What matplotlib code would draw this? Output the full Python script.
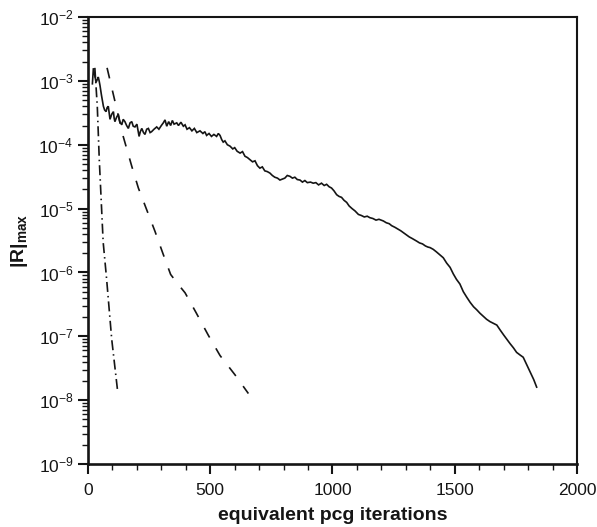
import matplotlib
matplotlib.use("Agg")
import math
import matplotlib.pyplot as plt
from matplotlib.ticker import FixedLocator, FuncFormatter, LogLocator, NullFormatter, MultipleLocator

plt.rcParams['font.family'] = ['Liberation Sans', 'DejaVu Sans']
plt.rcParams['mathtext.fontset'] = 'custom'
plt.rcParams['mathtext.rm'] = 'Liberation Sans'
plt.rcParams['mathtext.it'] = 'Liberation Sans:italic'
plt.rcParams['mathtext.bf'] = 'Liberation Sans:bold'

# ---- data ----
solid_x = [18, 22, 28, 33, 38, 42, 46, 49, 55, 63, 68, 74, 78, 83, 87, 90, 97, 104, 107, 110,
           117, 124, 130, 138, 144, 151, 158, 165, 172, 179, 185, 192, 200, 209, 214, 220, 227,
           233, 240, 247, 254, 260, 270, 281, 290, 300, 308, 315, 322, 330, 338, 345, 352, 363,
           370, 380, 390, 397, 405, 415, 425, 435, 445, 458, 470, 478, 485, 495, 505, 515, 526,
           533, 540, 547, 553, 560, 570, 581, 592, 600, 610, 622, 632, 642, 652, 663, 673, 683,
           693, 703, 713, 723, 733, 744, 754, 764, 775, 785, 795, 805, 815, 826, 836, 846, 856,
           867, 877, 887, 897, 910, 921, 932, 943, 955, 966, 976, 986, 996, 1006, 1017, 1027,
           1037, 1047, 1058, 1068, 1080, 1092, 1106, 1118, 1130, 1142, 1153, 1165, 1178, 1190,
           1208, 1220, 1232, 1242, 1255, 1267, 1279, 1290, 1302, 1314, 1326, 1344, 1356, 1368,
           1380, 1390, 1399, 1412, 1425, 1438, 1453, 1467, 1481, 1494, 1507, 1521, 1535, 1549,
           1563, 1577, 1590, 1603, 1617, 1630, 1644, 1658, 1672, 1686, 1700, 1713, 1726, 1740,
           1753, 1767, 1780, 1790, 1801, 1812, 1823, 1835]
solid_y = [9e-4, 1.58e-3, 1.2e-3, 9.5e-4, 1.05e-3, 1.15e-3, 9.8e-4, 8.5e-4, 6e-4, 4e-4, 3.5e-4,
           3.3e-4, 3.8e-4, 4e-4, 3.1e-4, 2.5e-4, 3.0e-4, 3.3e-4, 2.6e-4, 2.3e-4, 2.7e-4, 3.0e-4,
           2.3e-4, 2.05e-4, 2.5e-4, 2.3e-4, 2.0e-4, 1.8e-4, 2.2e-4, 2.3e-4, 1.95e-4, 1.9e-4,
           2.1e-4, 1.35e-4, 1.6e-4, 1.8e-4, 1.55e-4, 1.45e-4, 1.75e-4, 1.8e-4, 1.55e-4, 1.6e-4,
           1.75e-4, 1.9e-4, 1.75e-4, 2.0e-4, 2.2e-4, 2.45e-4, 1.95e-4, 2.3e-4, 2.0e-4, 2.4e-4,
           2.1e-4, 2.2e-4, 2.0e-4, 2.25e-4, 1.95e-4, 2.05e-4, 1.75e-4, 1.85e-4, 1.65e-4, 1.8e-4,
           1.55e-4, 1.65e-4, 1.5e-4, 1.6e-4, 1.4e-4, 1.5e-4, 1.35e-4, 1.45e-4, 1.35e-4, 1.5e-4,
           1.4e-4, 1.2e-4, 1.1e-4, 1.15e-4, 1.0e-4, 9.5e-5, 8.6e-5, 9.0e-5, 7.9e-5, 7.4e-5,
           7.8e-5, 6.6e-5, 6.3e-5, 5.8e-5, 5.4e-5, 5.6e-5, 4.7e-5, 4.3e-5, 4.5e-5, 3.9e-5,
           3.8e-5, 3.6e-5, 3.3e-5, 3.1e-5, 3.0e-5, 2.8e-5, 2.9e-5, 3.0e-5, 3.3e-5, 3.2e-5,
           3.0e-5, 3.1e-5, 2.85e-5, 2.8e-5, 2.6e-5, 2.75e-5, 2.55e-5, 2.6e-5, 2.5e-5, 2.55e-5,
           2.35e-5, 2.5e-5, 2.3e-5, 2.4e-5, 2.2e-5, 2.1e-5, 1.9e-5, 1.65e-5, 1.55e-5, 1.5e-5,
           1.35e-5, 1.25e-5, 1.1e-5, 1.0e-5, 9.2e-6, 8.1e-6, 7.8e-6, 7.4e-6, 7.6e-6, 7.2e-6,
           7.0e-6, 6.6e-6, 6.8e-6, 6.4e-6, 6.0e-6, 5.8e-6, 5.4e-6, 5.1e-6, 4.8e-6, 4.5e-6,
           4.2e-6, 3.9e-6, 3.6e-6, 3.4e-6, 3.1e-6, 2.9e-6, 2.8e-6, 2.6e-6, 2.5e-6, 2.45e-6,
           2.3e-6, 2.1e-6, 1.9e-6, 1.7e-6, 1.4e-6, 1.2e-6, 9.5e-7, 7.8e-7, 6.6e-7, 5.0e-7,
           4.1e-7, 3.4e-7, 2.9e-7, 2.6e-7, 2.3e-7, 2.05e-7, 1.85e-7, 1.7e-7, 1.6e-7, 1.5e-7,
           1.25e-7, 1.05e-7, 9.0e-8, 7.7e-8, 6.6e-8, 5.6e-8, 5.1e-8, 4.7e-8, 3.9e-8, 3.2e-8,
           2.6e-8, 2.1e-8, 1.6e-8]

dashed_x = [78, 144, 179, 206, 240, 274, 306, 338, 369, 397, 442, 492, 540, 601, 656]
dashed_y = [1.6e-3, 1.35e-4, 4.6e-5, 2.1e-5, 9.6e-6, 4.4e-6, 2.0e-6, 9.3e-7, 6.5e-7, 4.8e-7,
            2.35e-7, 1.04e-7, 5.0e-8, 2.5e-8, 1.27e-8]

dashdot_x = [28, 38, 46, 62, 76, 97, 122]
dashdot_y = [1.6e-3, 4e-4, 6e-5, 3e-6, 8e-7, 9e-8, 1.3e-8]

y_major = [1e-9, 1e-8, 1e-7, 1e-6, 1e-5, 1e-4, 1e-3, 1e-2]
x_major = [0, 500, 1000, 1500, 2000]

# ---- figure ----
fig = plt.figure(figsize=(5.97, 5.27), dpi=100)
ax = fig.add_axes([0.1474, 0.1195, 0.8191, 0.8482])

ink = '#151515'
ax.plot(solid_x, solid_y, color=ink, lw=1.2, solid_joinstyle='miter')
ax.plot(dashed_x, dashed_y, color=ink, lw=1.2, dashes=(6.5, 7.5))
ax.plot(dashdot_x, dashdot_y, color=ink, lw=1.2, dashes=(6, 2.4, 0.9, 2.4))

ax.set_yscale('log')
ax.set_xlim(0, 2000)
ax.set_ylim(1e-9, 1e-2)

ax.xaxis.set_major_locator(FixedLocator(x_major))
ax.xaxis.set_minor_locator(MultipleLocator(100))
ax.yaxis.set_major_locator(FixedLocator(y_major))
ax.yaxis.set_minor_locator(LogLocator(base=10, subs=range(2, 10), numticks=20))
ax.yaxis.set_minor_formatter(NullFormatter())


def yfmt(v, pos):
    e = int(round(math.log10(v)))
    return r'$\mathregular{10^{%d}}$' % e


ax.yaxis.set_major_formatter(FuncFormatter(yfmt))

ax.tick_params(axis='both', which='major', direction='out', length=7.5, width=1.5,
               labelsize=12.5, color=ink, labelcolor=ink)
ax.tick_params(axis='both', which='minor', direction='out', length=4, width=1.0, color=ink)
ax.tick_params(axis='x', which='major', pad=6)
ax.tick_params(axis='y', which='major', pad=3)
ax.tick_params(top=False, right=False, which='both')

for s in ['left', 'bottom']:
    ax.spines[s].set_linewidth(1.9)
for s in ['top', 'right']:
    ax.spines[s].set_linewidth(1.5)
for s in ax.spines.values():
    s.set_color(ink)

ax.set_xlabel('equivalent pcg iterations', fontsize=14, fontweight='bold', color=ink, labelpad=7)
ax.set_ylabel(r'$\mathbf{|R|_{max}}$', fontsize=14, color=ink, labelpad=6)

fig.savefig('out.png', dpi=100)
